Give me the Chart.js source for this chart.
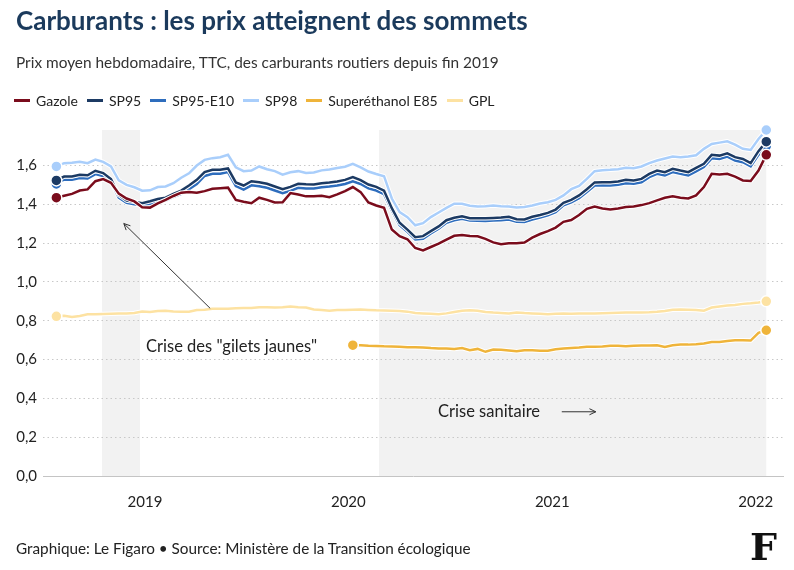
<!DOCTYPE html>
<html>
<head>
<meta charset="utf-8">
<title>Carburants : les prix atteignent des sommets</title>
<script src="https://cdn.jsdelivr.net/npm/chart.js@4.4.0/dist/chart.umd.min.js"></script>
<style>
  body { margin: 0; width: 794px; height: 570px; background: #fff; font-family: Lato, sans-serif; color: #222; position: relative; overflow: hidden; }
  #wrap { position: absolute; left: 0; top: 0; width: 794px; height: 570px; }
  #title { position: absolute; left: 16px; top: 4px; font-size: 26px; font-weight: 700; color: #1b3a5c; white-space: nowrap; }
  #subtitle { position: absolute; left: 16px; top: 53px; font-size: 15.4px; color: #333; white-space: nowrap; }
  #legend { position: absolute; left: 14px; top: 92px; display: flex; font-size: 14px; color: #222; white-space: nowrap; }
  .item { display: flex; align-items: center; margin-right: 9px; }
  .swatch { width: 16px; height: 3px; margin-right: 6px; }
  #footer { position: absolute; left: 16px; top: 539px; font-size: 15.3px; color: #222; white-space: nowrap; }
  #logo { position: absolute; left: 750px; top: 524px; font-family: "DejaVu Serif", serif; font-weight: 700; font-size: 38px; color: #111; }
</style>
</head>
<body>
<div id="wrap"><canvas id="chart" width="794" height="570"></canvas></div>
<div id="title">Carburants : les prix atteignent des sommets</div>
<div id="subtitle">Prix moyen hebdomadaire, TTC, des carburants routiers depuis fin 2019</div>
<div id="legend"></div>
<div id="footer">Graphique: Le Figaro • Source: Ministère de la Transition écologique</div>
<div id="logo">F</div>

<script>
// x = jours depuis le 1er janvier 2019, un point toutes les deux semaines
const firstDay = -159;
const stepDays = 14;

const gazole = [
  1.434, 1.444, 1.454, 1.471, 1.477, 1.519, 1.530, 1.511, 1.455, 1.430,
  1.415, 1.385, 1.383, 1.405, 1.423, 1.443, 1.460, 1.463, 1.460, 1.468,
  1.480, 1.483, 1.486, 1.423, 1.413, 1.406, 1.434, 1.423, 1.410, 1.411,
  1.458, 1.451, 1.441, 1.441, 1.444, 1.437, 1.451, 1.468, 1.489, 1.463,
  1.410, 1.394, 1.382, 1.270, 1.236, 1.220, 1.175, 1.162, 1.180, 1.197,
  1.218, 1.238, 1.242, 1.237, 1.235, 1.222, 1.204, 1.194, 1.199, 1.200,
  1.203, 1.228, 1.247, 1.262, 1.280, 1.310, 1.319, 1.345, 1.377, 1.389,
  1.379, 1.374, 1.379, 1.386, 1.389, 1.396, 1.406, 1.420, 1.434, 1.441,
  1.434, 1.430, 1.446, 1.489, 1.557, 1.554, 1.557, 1.543, 1.523, 1.520,
  1.574, 1.655
];
const sp95 = [
  1.523, 1.543, 1.543, 1.552, 1.550, 1.573, 1.561, 1.530, 1.448, 1.420,
  1.413, 1.406, 1.416, 1.427, 1.434, 1.454, 1.471, 1.497, 1.526, 1.566,
  1.578, 1.578, 1.585, 1.513, 1.497, 1.519, 1.514, 1.506, 1.492, 1.478,
  1.490, 1.506, 1.503, 1.502, 1.509, 1.513, 1.518, 1.526, 1.540, 1.525,
  1.502, 1.490, 1.470, 1.380, 1.305, 1.270, 1.231, 1.236, 1.262, 1.286,
  1.318, 1.331, 1.338, 1.328, 1.328, 1.328, 1.330, 1.332, 1.336, 1.323,
  1.322, 1.336, 1.345, 1.356, 1.373, 1.408, 1.423, 1.446, 1.478, 1.513,
  1.514, 1.514, 1.518, 1.526, 1.523, 1.531, 1.557, 1.574, 1.566, 1.583,
  1.574, 1.566, 1.588, 1.609, 1.655, 1.651, 1.663, 1.643, 1.634, 1.612,
  1.674, 1.723
];
const sp95e10 = [
  1.505, 1.528, 1.527, 1.535, 1.533, 1.556, 1.546, 1.518, 1.435, 1.408,
  1.400, 1.394, 1.402, 1.413, 1.420, 1.438, 1.454, 1.478, 1.505, 1.546,
  1.557, 1.558, 1.566, 1.494, 1.476, 1.498, 1.493, 1.485, 1.471, 1.457,
  1.469, 1.485, 1.482, 1.481, 1.488, 1.492, 1.497, 1.505, 1.519, 1.505,
  1.482, 1.471, 1.452, 1.368, 1.293, 1.258, 1.219, 1.223, 1.250, 1.274,
  1.305, 1.318, 1.325, 1.316, 1.315, 1.314, 1.316, 1.318, 1.322, 1.310,
  1.309, 1.322, 1.332, 1.343, 1.360, 1.395, 1.410, 1.432, 1.463, 1.497,
  1.498, 1.497, 1.501, 1.509, 1.506, 1.514, 1.540, 1.557, 1.549, 1.566,
  1.557, 1.549, 1.570, 1.592, 1.637, 1.634, 1.646, 1.626, 1.617, 1.596,
  1.655, 1.700
];
const sp98 = [
  1.595, 1.612, 1.614, 1.619, 1.612, 1.631, 1.619, 1.595, 1.523, 1.500,
  1.488, 1.470, 1.472, 1.489, 1.492, 1.509, 1.537, 1.560, 1.600, 1.629,
  1.638, 1.643, 1.655, 1.591, 1.571, 1.574, 1.595, 1.581, 1.571, 1.553,
  1.565, 1.571, 1.562, 1.564, 1.575, 1.580, 1.587, 1.594, 1.609, 1.590,
  1.569, 1.556, 1.545, 1.430, 1.360, 1.334, 1.292, 1.303, 1.334, 1.358,
  1.382, 1.403, 1.403, 1.393, 1.389, 1.390, 1.394, 1.390, 1.389, 1.384,
  1.386, 1.394, 1.404, 1.411, 1.423, 1.446, 1.478, 1.495, 1.531, 1.571,
  1.576, 1.578, 1.581, 1.588, 1.586, 1.595, 1.612, 1.626, 1.636, 1.646,
  1.643, 1.646, 1.653, 1.686, 1.711, 1.718, 1.725, 1.708, 1.686, 1.680,
  1.737, 1.783
];
const e85 = Array(38).fill(null).concat([
  0.674, 0.674, 0.671, 0.670, 0.668, 0.667, 0.666, 0.664, 0.664, 0.662,
  0.659, 0.657, 0.657, 0.655, 0.659, 0.648, 0.655, 0.640, 0.652, 0.650,
  0.647, 0.643, 0.648, 0.648, 0.645, 0.645, 0.653, 0.657, 0.660, 0.662,
  0.666, 0.666, 0.667, 0.671, 0.671, 0.669, 0.671, 0.672, 0.672, 0.674,
  0.665, 0.674, 0.677, 0.677, 0.679, 0.683, 0.691, 0.691, 0.696, 0.700,
  0.700, 0.698, 0.738, 0.751
]);
const gpl = [
  0.823, 0.826, 0.820, 0.825, 0.833, 0.833, 0.835, 0.836, 0.837, 0.838,
  0.840, 0.848, 0.845, 0.850, 0.851, 0.848, 0.846, 0.847, 0.855, 0.857,
  0.862, 0.862, 0.862, 0.864, 0.866, 0.866, 0.870, 0.869, 0.868, 0.870,
  0.873, 0.870, 0.868, 0.858, 0.856, 0.852, 0.855, 0.855, 0.857, 0.858,
  0.856, 0.854, 0.853, 0.852, 0.850, 0.847, 0.840, 0.838, 0.836, 0.834,
  0.838, 0.845, 0.851, 0.854, 0.852, 0.845, 0.842, 0.840, 0.838, 0.843,
  0.840, 0.838, 0.836, 0.834, 0.836, 0.838, 0.836, 0.837, 0.838, 0.838,
  0.839, 0.840, 0.841, 0.842, 0.842, 0.843, 0.844, 0.846, 0.850, 0.857,
  0.858, 0.857, 0.855, 0.852, 0.868, 0.874, 0.878, 0.881, 0.887, 0.890,
  0.894, 0.900
];

const seriesNames = ['Gazole', 'SP95', 'SP95-E10', 'SP98', 'Superéthanol E85', 'GPL'];
const seriesValues = [gazole, sp95, sp95e10, sp98, e85, gpl];
const seriesColors = ['#7a0c1c', '#1c3a63', '#2e6dbd', '#a9cefb', '#efb43a', '#fde2a2'];

const yearTicks = [0, 365, 731, 1096];
const yearLabels = ['2019', '2020', '2021', '2022'];
const yTicks = [0, 0.2, 0.4, 0.6, 0.8, 1.0, 1.2, 1.4, 1.6];

// périodes de crise (jours depuis le 1er janvier 2019)
const crisisPeriods = [[-77, -9], [420, 1115]];
const notes = [
  { text: 'Crise des "gilets jaunes"', x: 2, y: 0.665 },
  { text: 'Crise sanitaire', x: 526, y: 0.331 }
];
const arrows = [
  { from: [117, 0.864], to: [-38, 1.301] },
  { from: [748, 0.331], to: [809, 0.331] }
];

// légende
const legend = document.getElementById('legend');
seriesNames.forEach((name, i) => {
  const item = document.createElement('div');
  item.className = 'item';
  item.innerHTML = '<span class="swatch" style="background:' + seriesColors[i] + '"></span>' + name;
  legend.appendChild(item);
});

const datasets = seriesValues.map((vals, i) => {
  const pts = [];
  vals.forEach((v, k) => { if (v !== null) pts.push({ x: firstDay + k * stepDays, y: v }); });
  return {
    label: seriesNames[i],
    data: pts,
    borderColor: seriesColors[i],
    backgroundColor: seriesColors[i],
    borderWidth: 2.5,
    tension: 0,
    clip: false,
    pointRadius: ctx => (ctx.dataIndex === 0 || ctx.dataIndex === pts.length - 1) ? 5.5 : 0,
    pointHoverRadius: 0,
    pointBorderColor: '#fff',
    pointBorderWidth: 1.5
  };
});

const shadePlugin = {
  id: 'shade',
  beforeDraw(chart) {
    const { ctx, chartArea, scales } = chart;
    ctx.save();
    ctx.fillStyle = '#f2f2f2';
    crisisPeriods.forEach(p => {
      const x1 = scales.x.getPixelForValue(p[0]);
      const x2 = scales.x.getPixelForValue(p[1]);
      ctx.fillRect(x1, chartArea.top, x2 - x1, chartArea.bottom - chartArea.top);
    });
    ctx.restore();
  }
};

// liseré blanc sous chaque courbe
const haloPlugin = {
  id: 'halo',
  beforeDatasetDraw(chart, args) {
    const pts = args.meta.data;
    const c = chart.ctx;
    c.save();
    c.strokeStyle = '#fff';
    c.lineWidth = 4.5;
    c.lineJoin = 'round';
    c.beginPath();
    pts.forEach((p, k) => k ? c.lineTo(p.x, p.y) : c.moveTo(p.x, p.y));
    c.stroke();
    c.restore();
  }
};

const notesPlugin = {
  id: 'notes',
  afterDatasetsDraw(chart) {
    const { ctx, scales } = chart;
    ctx.save();
    ctx.font = '16.5px Lato, sans-serif';
    ctx.fillStyle = '#222';
    ctx.textBaseline = 'middle';
    notes.forEach(n => {
      ctx.fillText(n.text, scales.x.getPixelForValue(n.x), scales.y.getPixelForValue(n.y));
    });
    ctx.strokeStyle = '#333';
    ctx.lineWidth = 1;
    arrows.forEach(a => {
      const x1 = scales.x.getPixelForValue(a.from[0]), y1 = scales.y.getPixelForValue(a.from[1]);
      const x2 = scales.x.getPixelForValue(a.to[0]), y2 = scales.y.getPixelForValue(a.to[1]);
      const ang = Math.atan2(y2 - y1, x2 - x1);
      ctx.beginPath();
      ctx.moveTo(x1, y1);
      ctx.lineTo(x2, y2);
      ctx.moveTo(x2 - 7 * Math.cos(ang - 0.45), y2 - 7 * Math.sin(ang - 0.45));
      ctx.lineTo(x2, y2);
      ctx.lineTo(x2 - 7 * Math.cos(ang + 0.45), y2 - 7 * Math.sin(ang + 0.45));
      ctx.stroke();
    });
    ctx.restore();
  }
};

new Chart('chart', {
  type: 'line',
  data: { datasets: datasets },
  plugins: [shadePlugin, haloPlugin, notesPlugin],
  options: {
    responsive: false,
    animation: false,
    layout: { padding: { top: 130, right: 11, left: 0, bottom: 0 } },
    plugins: { legend: { display: false }, tooltip: { enabled: false } },
    scales: {
      x: {
        type: 'linear',
        min: -183,
        max: 1145,
        afterBuildTicks: s => { s.ticks = yearTicks.map(v => ({ value: v })); },
        afterFit: s => { s.height = 94; },
        ticks: {
          padding: 9,
          color: '#222',
          font: { family: 'Lato', size: 15 },
          callback: v => yearLabels[yearTicks.indexOf(v)]
        },
        grid: { display: false },
        border: { display: true, color: '#c4c4c4', width: 1 }
      },
      y: {
        min: 0,
        max: 1.783,
        afterBuildTicks: s => { s.ticks = yTicks.map(v => ({ value: v })); },
        afterFit: s => { s.width = 43; },
        ticks: {
          padding: 6,
          color: '#222',
          font: { family: 'Lato', size: 15 },
          callback: v => v.toFixed(1).replace('.', ',')
        },
        grid: {
          drawTicks: false,
          color: ctx => ctx.tick && ctx.tick.value === 0 ? 'rgba(0,0,0,0)' : '#c8c8c8'
        },
        border: { display: false, dash: [1.5, 3] }
      }
    }
  }
});
</script>
</body>
</html>
